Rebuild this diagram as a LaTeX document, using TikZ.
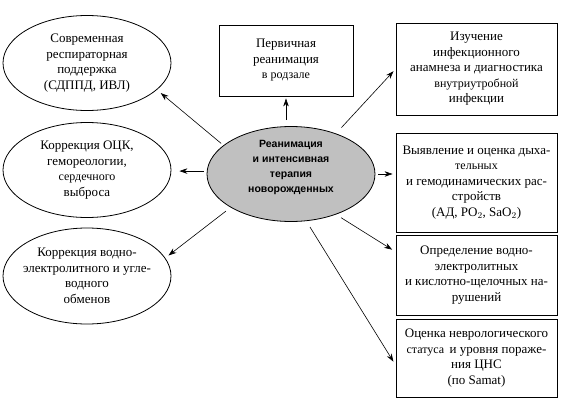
\documentclass[tikz,border=0pt]{standalone}
\usepackage{fontspec}
\setmainfont{Liberation Serif}
\newfontfamily\bodyfont{Liberation Serif}
\newfontfamily\headfont{Liberation Sans}
\usetikzlibrary{shapes.geometric,arrows.meta}
\newcommand\bodysize{\bodyfont\fontsize{13}{15.5}\selectfont}
\newcommand\smallword[1]{{\fontsize{12}{15.5}\selectfont #1}}
\definecolor{ovalgray}{RGB}{192,192,192}
\begin{document}
\begin{tikzpicture}[x=1pt,y=-1pt,
    oval/.style={ellipse,draw,line width=0.8pt,minimum width=168pt,minimum height=95pt,inner xsep=-8pt,inner ysep=0pt,align=center,font=\bodysize},
    plate/.style={rectangle,draw,line width=0.9pt,minimum width=161pt,align=center,font=\bodysize},
    arr/.style={-{Stealth[length=8pt,width=5.5pt]},line width=0.6pt}]
    \useasboundingbox (0,0) rectangle (563,402);

    \node[oval,fill=ovalgray,text depth=16pt,inner ysep=-5pt,font=\headfont\bfseries\fontsize{10.5}{15}\selectfont] (centre) at (291,174) {Реанимация\\и интенсивная\\терапия\\новорожденных};

    \node[oval] (resp) at (87,63) {Современная\\респираторная\\поддержка\\(СДППД, ИВЛ)};
    \node[oval] (occ) at (87,170) {Коррекция ОЦК,\\гемореологии,\\\smallword{сердечного}\\выброса};
    \node[oval,minimum height=96pt] (elec) at (87,276) {Коррекция водно-\\электролитного и угле-\\водного\\обменов};

    \node[plate,minimum width=134pt,minimum height=71pt] (reanim) at (286,60.5) {Первичная\\реанимация\\\smallword{в родзале}};

    \node[plate,minimum height=92pt] (inf) at (476.5,69) {Изучение\\инфекционного\\анамнеза и диагностика\\\smallword{внутриутробной}\\инфекции};
    \node[plate,minimum height=99pt] (dyh) at (476.5,182.5) {Выявление и оценка дыха-\\\smallword{тельных}\\и гемодинамических рас-\\стройств\\(АД, PO$_2$, SaO$_2$)};
    \node[plate,minimum height=80pt] (vodn) at (476.5,275) {Определение водно-\\электролитных\\и кислотно-щелочных на-\\рушений};
    \node[plate,minimum height=78pt] (nevr) at (476.5,358) {Оценка неврологического\\\smallword{статуса}\, и уровня пораже-\\ния ЦНС\\(по Samat)};

    % arrows out of the centre
    \draw[arr,shorten <=3pt,shorten >=5pt] (centre.157) -- (resp.-21);
    \draw[arr,shorten <=3pt,shorten >=8pt] (centre.178) -- (centre.178 -| occ.east);
    \draw[arr,shorten <=6pt,shorten >=4pt] (centre.209) -- (elec.13);
    \draw[arr,shorten <=6pt,shorten >=2pt] (reanim.south |- centre.north) -- (reanim.south);
    \draw[arr,shorten <=8pt,shorten >=3pt] (centre.42) -- (inf.west);
    \draw[arr,shorten <=3pt,shorten >=3pt] (centre.east) -- (centre.east -| dyh.west);
    \draw[arr,shorten <=6pt,shorten >=4pt] (centre.-42) -- (vodn.164);
    \draw[arr,shorten <=7pt,shorten >=4pt] (centre.-72) -- (nevr.185);
\end{tikzpicture}
\end{document}
